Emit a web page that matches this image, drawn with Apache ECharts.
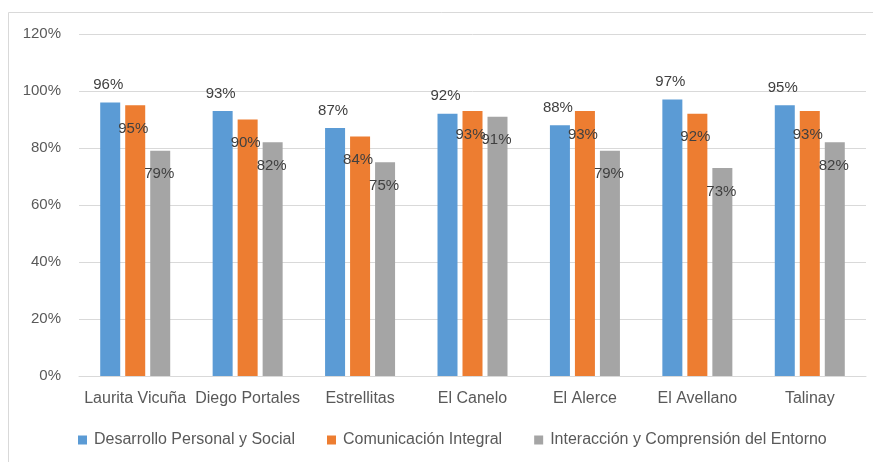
<!DOCTYPE html>
<html><head><meta charset="utf-8">
<script src="https://cdn.jsdelivr.net/npm/echarts@6/dist/echarts.min.js"></script>
<style>html,body{margin:0;padding:0;background:#fff}#c{width:873px;height:462px}</style>
</head><body><div id="c"></div>
<script>
const categories = ['Laurita Vicuña','Diego Portales','Estrellitas','El Canelo','El Alerce','El Avellano','Talinay'];
const seriesNames = ['Desarrollo Personal y Social','Comunicación Integral','Interacción y Comprensión del Entorno'];
const desarrollo = [96,93,87,92,88,97,95];
const comunicacion = [95,90,84,93,93,92,93];
const interaccion = [79,82,75,91,79,73,82];
const yTicks = [0,20,40,60,80,100,120];
const colors = ['#5b9bd5','#ed7d31','#a5a5a5'];
const font = 'Liberation Sans, Arial, sans-serif';
const chart = echarts.init(document.getElementById('c'));
const lbl = (pos, off) => ({show:true, position:pos, offset:off, formatter: p => p.value + '%', color:'#404040', fontSize:15, fontFamily:font});
chart.setOption({
  animation:false,
  color:colors,
  graphic:[{type:'rect', shape:{x:8.5,y:12.5,width:900,height:500}, style:{fill:'none', stroke:'#d9d9d9', lineWidth:1}, silent:true}],
  grid:{left:79,right:7,top:34,bottom:86,containLabel:false},
  legend:{top:427,left:73,itemWidth:9,itemHeight:9,itemGap:32,icon:'rect',
    textStyle:{color:'#595959',fontSize:16,fontFamily:font,padding:[0,0,0,2]}, data:seriesNames},
  xAxis:{type:'category',data:categories,axisTick:{show:false},
    axisLine:{lineStyle:{color:'#d9d9d9'}},
    axisLabel:{color:'#595959',fontSize:16,fontFamily:font,margin:15,interval:0}},
  yAxis:{type:'value',min:0,max:120,interval:20,
    axisLabel:{formatter: v => yTicks.includes(v) ? v + '%' : '', color:'#595959',fontSize:15,fontFamily:font,margin:18},
    splitLine:{lineStyle:{color:'#d9d9d9'}},axisLine:{show:false},axisTick:{show:false}},
  series:[
    {name:seriesNames[0],type:'bar',data:desarrollo,barWidth:20,barGap:'25%',label:lbl('top',[-2,-5])},
    {name:seriesNames[1],type:'bar',data:comunicacion,barWidth:20,barGap:'25%',label:lbl('insideTop',[-2,11])},
    {name:seriesNames[2],type:'bar',data:interaccion,barWidth:20,barGap:'25%',label:lbl('insideTop',[-1,11])}
  ]
});
</script></body></html>
